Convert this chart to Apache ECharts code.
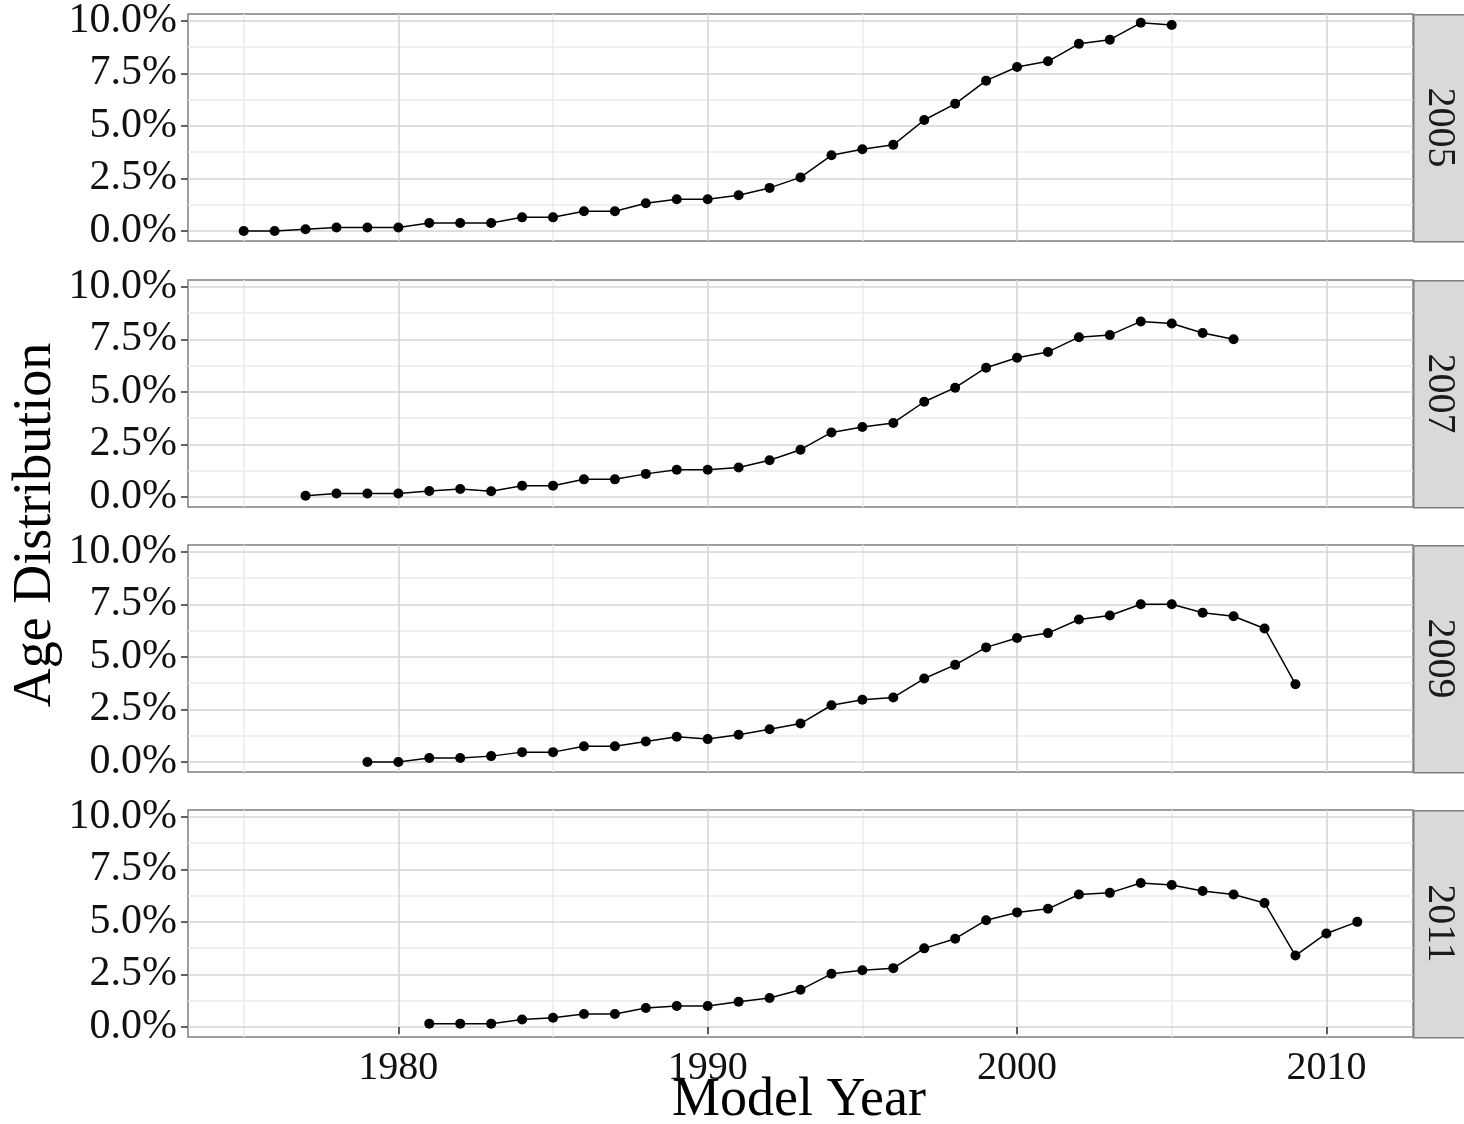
<!DOCTYPE html>
<html>
<head>
<meta charset="utf-8">
<title>Age Distribution by Model Year</title>
<script src="https://cdn.jsdelivr.net/npm/echarts@6/dist/echarts.min.js"></script>
<style>
    html, body { margin: 0; padding: 0; background: #fff; }
    #chart { width: 1464px; height: 1124px; }
</style>
</head>
<body>
<div id="chart"></div>
<script>
    // Model years on the x axis
    const modelYears = [1975, 1976, 1977, 1978, 1979, 1980, 1981, 1982, 1983, 1984,
        1985, 1986, 1987, 1988, 1989, 1990, 1991, 1992, 1993, 1994, 1995, 1996, 1997,
        1998, 1999, 2000, 2001, 2002, 2003, 2004, 2005, 2006, 2007, 2008, 2009, 2010, 2011];

    // Facet labels (calendar year) and the first model year in each facet
    const panelNames = ['2005', '2007', '2009', '2011'];
    const firstYears = [1975, 1977, 1979, 1981];

    // Age distribution in %, one list per facet, from the first model year onwards
    const dist2005 = [0.0, 0.0, 0.08, 0.17, 0.17, 0.17, 0.38, 0.38, 0.38, 0.65, 0.65, 0.94, 0.94,
        1.32, 1.51, 1.51, 1.70, 2.05, 2.55, 3.60, 3.89, 4.10, 5.28, 6.05, 7.15, 7.80, 8.07, 8.90,
        9.10, 9.90, 9.80];
    const dist2007 = [0.06, 0.17, 0.17, 0.17, 0.29, 0.38, 0.27, 0.54, 0.54, 0.84, 0.84, 1.10,
        1.30, 1.30, 1.40, 1.75, 2.25, 3.07, 3.33, 3.52, 4.53, 5.20, 6.15, 6.62, 6.90, 7.60, 7.70,
        8.35, 8.25, 7.80, 7.50];
    const dist2009 = [0.0, 0.0, 0.19, 0.19, 0.28, 0.47, 0.47, 0.75, 0.75, 0.98, 1.20, 1.09, 1.30,
        1.56, 1.83, 2.70, 2.96, 3.07, 3.97, 4.62, 5.45, 5.90, 6.13, 6.78, 6.97, 7.50, 7.50, 7.10,
        6.93, 6.35, 3.70];
    const dist2011 = [0.16, 0.16, 0.16, 0.36, 0.44, 0.62, 0.62, 0.90, 1.00, 1.00, 1.20, 1.38,
        1.77, 2.53, 2.70, 2.80, 3.74, 4.20, 5.08, 5.45, 5.62, 6.30, 6.38, 6.85, 6.75, 6.47, 6.30,
        5.90, 3.40, 4.45, 5.00];
    const panelValues = [dist2005, dist2007, dist2009, dist2011];

    // Tick positions
    const xMajorTicks = [1980, 1990, 2000, 2010];
    const xMinorTicks = [1975, 1985, 1995, 2005];
    const yMajorTicks = [0, 2.5, 5, 7.5, 10];
    const yMinorTicks = [1.25, 3.75, 6.25, 8.75];

    const X_MIN = 1973.2, X_MAX = 2012.8;
    const Y_MIN = -0.475, Y_MAX = 10.32;

    const FONT = '"Liberation Serif", "Times New Roman", serif';
    const PANEL_TOPS = [14, 280, 545, 810];
    const PANEL_H = 227;
    const PANEL_LEFT = 188, PANEL_RIGHT = 51;

    const grids = [], xAxes = [], yAxes = [], series = [], graphics = [];

    panelNames.forEach((name, i) => {
        const last = i === panelNames.length - 1;
        grids.push({
            left: PANEL_LEFT, right: PANEL_RIGHT, top: PANEL_TOPS[i], height: PANEL_H,
            show: true, borderColor: '#7f7f7f', borderWidth: 1.5,
            containLabel: false, outerBoundsMode: 'none'
        });

        // major x axis (ticks, labels, gridlines)
        xAxes.push({
            gridIndex: i, type: 'value', min: X_MIN, max: X_MAX, z: 1,
            axisLine: { show: false },
            axisTick: { show: last, customValues: xMajorTicks, length: 7, lineStyle: { color: '#333', width: 1.5 } },
            axisLabel: {
                show: last, customValues: xMajorTicks, fontSize: 40, fontFamily: FONT,
                color: '#111', margin: 11, formatter: v => String(v)
            },
            splitLine: { show: true, lineStyle: { color: '#d4d4d4', width: 1.5 } }
        });
        // minor x gridlines
        xAxes.push({
            gridIndex: i, type: 'value', min: X_MIN, max: X_MAX, z: 0,
            axisLine: { show: false },
            axisTick: { show: false, customValues: xMinorTicks },
            axisLabel: { show: false },
            splitLine: { show: true, lineStyle: { color: '#ebebeb', width: 1.5 } }
        });

        // major y axis
        yAxes.push({
            gridIndex: i, type: 'value', min: Y_MIN, max: Y_MAX, z: 1,
            axisLine: { show: false },
            axisTick: { show: true, customValues: yMajorTicks, length: 7, lineStyle: { color: '#333', width: 1.5 } },
            axisLabel: {
                customValues: yMajorTicks, fontSize: 42, fontFamily: FONT, color: '#111', margin: 11,
                formatter: v => v.toFixed(1) + '%'
            },
            splitLine: { show: true, lineStyle: { color: '#d4d4d4', width: 1.5 } }
        });
        // minor y gridlines
        yAxes.push({
            gridIndex: i, type: 'value', min: Y_MIN, max: Y_MAX, z: 0,
            axisLine: { show: false },
            axisTick: { show: false, customValues: yMinorTicks },
            axisLabel: { show: false },
            splitLine: { show: true, lineStyle: { color: '#ebebeb', width: 1.5 } }
        });

        const start = modelYears.indexOf(firstYears[i]);
        const vals = panelValues[i];
        series.push({
            name: name, type: 'line',
            xAxisIndex: 2 * i, yAxisIndex: 2 * i,
            data: vals.map((v, k) => [modelYears[start + k], v]),
            symbol: 'circle', symbolSize: 10, showSymbol: true,
            lineStyle: { color: '#000', width: 1.5 },
            itemStyle: { color: '#000' },
            z: 3
        });

        // facet strip on the right
        graphics.push({
            type: 'rect', left: 1413, top: PANEL_TOPS[i],
            shape: { width: 51, height: PANEL_H },
            style: { fill: '#d9d9d9', stroke: '#7f7f7f', lineWidth: 1.5 }
        });
        graphics.push({
            type: 'text', x: 1439, y: PANEL_TOPS[i] + PANEL_H / 2, rotation: -Math.PI / 2,
            style: {
                text: name, font: '40px ' + FONT, fill: '#1a1a1a',
                textAlign: 'center', textVerticalAlign: 'middle'
            }
        });
    });

    // axis titles shared by all facets
    graphics.push({
        type: 'text', x: 36, y: 525, rotation: Math.PI / 2,
        style: {
            text: 'Age Distribution', font: '54px ' + FONT, fill: '#000',
            textAlign: 'center', textVerticalAlign: 'middle'
        }
    });
    graphics.push({
        type: 'text', x: 799, y: 1101,
        style: {
            text: 'Model Year', font: '54px ' + FONT, fill: '#000',
            textAlign: 'center', textVerticalAlign: 'middle'
        }
    });

    const myChart = echarts.init(document.getElementById('chart'), null, { renderer: 'canvas' });
    myChart.setOption({
        animation: false,
        backgroundColor: '#fff',
        grid: grids,
        xAxis: xAxes,
        yAxis: yAxes,
        series: series,
        graphic: graphics
    });
</script>
</body>
</html>
